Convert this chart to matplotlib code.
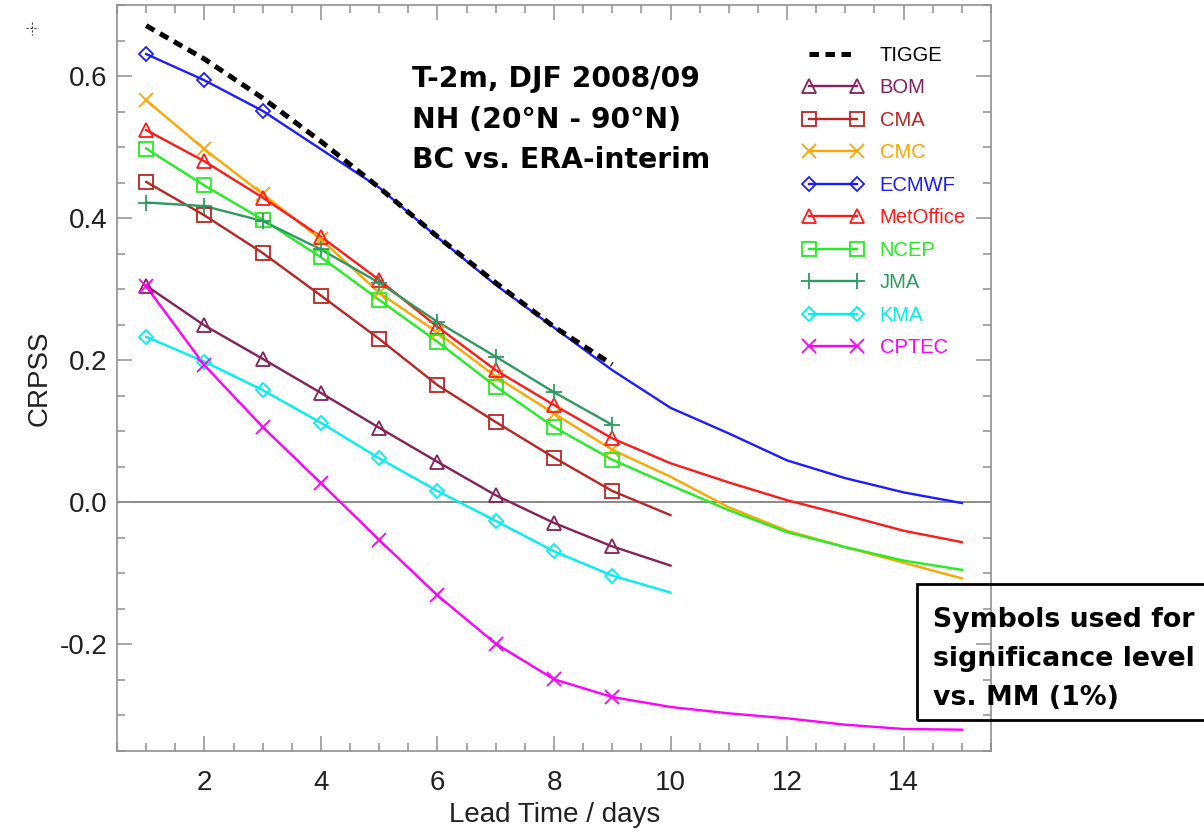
import matplotlib
matplotlib.use("Agg")
import matplotlib.pyplot as plt
from matplotlib.lines import Line2D
from matplotlib.patches import Rectangle
from matplotlib.ticker import MultipleLocator

plt.rcParams['font.family'] = ['Liberation Sans', 'DejaVu Sans']
plt.rcParams['axes.unicode_minus'] = False

# CRPSS per lead time (days 1..15)
tigge = [0.671, 0.624, 0.569, 0.508, 0.443, 0.374, 0.309, 0.247, 0.194]
bom = [0.305, 0.249, 0.202, 0.154, 0.105, 0.057, 0.010, -0.029, -0.062, -0.089]
cma = [0.451, 0.404, 0.351, 0.291, 0.230, 0.165, 0.113, 0.063, 0.016, -0.018]
cmc = [0.566, 0.497, 0.434, 0.370, 0.295, 0.239, 0.177, 0.125, 0.074, 0.036,
       -0.007, -0.040, -0.063, -0.085, -0.107]
ecmwf = [0.631, 0.594, 0.551, 0.497, 0.443, 0.373, 0.306, 0.246, 0.186, 0.133,
         0.097, 0.059, 0.034, 0.014, -0.001]
metoffice = [0.524, 0.480, 0.429, 0.374, 0.313, 0.247, 0.186, 0.137, 0.090, 0.055,
             0.028, 0.003, -0.018, -0.040, -0.056]
ncep = [0.498, 0.446, 0.398, 0.345, 0.285, 0.226, 0.163, 0.106, 0.060, 0.024,
        -0.011, -0.042, -0.063, -0.082, -0.095]
jma = [0.422, 0.417, 0.396, 0.356, 0.309, 0.254, 0.205, 0.155, 0.109]
kma = [0.233, 0.198, 0.158, 0.112, 0.062, 0.016, -0.026, -0.069, -0.103, -0.127]
cptec = [0.304, 0.193, 0.106, 0.027, -0.053, -0.131, -0.199, -0.249, -0.274, -0.288,
         -0.297, -0.304, -0.313, -0.319, -0.320]

# lead days where a significance symbol is drawn
sig_all = [1, 2, 3, 4, 5, 6, 7, 8, 9]
sig_ecmwf = [1, 2, 3]

names = ["BOM", "CMA", "CMC", "ECMWF", "MetOffice", "NCEP", "JMA", "KMA", "CPTEC"]
series = [bom, cma, cmc, ecmwf, metoffice, ncep, jma, kma, cptec]
sig_days = [sig_all, sig_all, sig_all, sig_ecmwf, sig_all, sig_all, sig_all, sig_all, sig_all]
colors = ["#85205a", "#bb2424", "#ffa500", "#1c1cff", "#ff1a1a", "#22ee22",
          "#2e9b5e", "#00f0f0", "#ff00ff"]
markers = ["^", "s", "x", "D", "^", "s", "+", "D", "x"]
msizes = [10.5, 10.5, 10.5, 7, 10.5, 10.5, 11, 7, 10.5]

fig = plt.figure(figsize=(12.04, 8.32), dpi=100)
ax = fig.add_axes([117 / 1204, 81 / 832, 874 / 1204, 746 / 832])

ax.axhline(0, color="#808080", lw=1.3, zorder=1)

for name, vals, sd, c, m, ms in zip(names, series, sig_days, colors, markers, msizes):
    d = list(range(1, len(vals) + 1))
    ax.plot(d, vals, color=c, lw=1.7, zorder=2)
    ax.plot(sd, [vals[i - 1] for i in sd], linestyle="none", marker=m, ms=ms,
            mfc="none", mec=c, mew=1.3, zorder=3)

ax.plot(range(1, len(tigge) + 1), tigge, color="black", lw=3.6,
        linestyle=(0, (1.9, 1.3)), zorder=4)

ax.set_xlim(0.5, 15.5)
ax.set_ylim(-0.35, 0.7)
ax.xaxis.set_major_locator(MultipleLocator(2))
ax.xaxis.set_minor_locator(MultipleLocator(0.5))
ax.yaxis.set_major_locator(MultipleLocator(0.2))
ax.yaxis.set_minor_locator(MultipleLocator(0.05))
ax.yaxis.set_major_formatter(matplotlib.ticker.FormatStrFormatter("%.1f"))
ax.set_xticks([2, 4, 6, 8, 10, 12, 14])
ax.tick_params(which="both", direction="in", top=True, right=True, color="#909090",
               width=1.1, labelsize=20, labelcolor="#202020")
ax.tick_params(which="major", length=11)
ax.tick_params(which="minor", length=6)
ax.tick_params(axis="y", pad=7)
ax.tick_params(axis="x", pad=14)
for s in ax.spines.values():
    s.set_color("#909090")
    s.set_linewidth(1.2)

fig.text(40 / 1204, 1 - 378 / 832, "CRPSS", rotation=90, ha="center", va="center",
         fontsize=20, color="#202020")
fig.text(555 / 1204, 1 - 815 / 832, "Lead Time / days", ha="center", va="center",
         fontsize=20, color="#202020")

# header text
head = ["T-2m, DJF 2008/09", "NH (20\u00b0N - 90\u00b0N)", "BC vs. ERA-interim"]
for line, yb in zip(head, [87, 128, 168]):
    fig.text(412 / 1204, 1 - yb / 832, line, ha="left", va="baseline",
             fontsize=20.3, fontweight="bold", family="DejaVu Sans")

# legend
handles = [Line2D([], [], color="black", lw=3.6, linestyle=(0, (1.9, 1.3)))]
for c, m, ms in zip(colors, markers, msizes):
    handles.append(Line2D([], [], color=c, lw=1.7, marker=m, ms=ms, mfc="none",
                          mec=c, mew=1.3))
leg = ax.legend(handles, ["TIGGE"] + names, loc="upper left",
                bbox_to_anchor=(803 / 1204, 1 - 46 / 832), bbox_transform=fig.transFigure,
                frameon=False, numpoints=2, fontsize=14.5, handlelength=3.0,
                handletextpad=0.8, labelspacing=0.67, borderpad=0, borderaxespad=0)
for t, c in zip(leg.get_texts(), ["black"] + colors):
    t.set_color(c)

# note box
fig.add_artist(Rectangle((917 / 1204, 1 - 720 / 832), 0.3, 136 / 832,
                         transform=fig.transFigure, fill=False, lw=2, ec="black"))
note = ["Symbols used for", "significance level", "vs. MM (1%)"]
for line, yb in zip(note, [627, 666, 705]):
    fig.text(933 / 1204, 1 - yb / 832, line, ha="left", va="baseline",
             fontsize=19.3, fontweight="bold", family="DejaVu Sans")

# small cursor mark in the corner
fig.add_artist(Line2D([26 / 1204, 38 / 1204], [1 - 28 / 832, 1 - 28 / 832],
                      transform=fig.transFigure, color="#404040", lw=0.8, ls=(0, (2, 1.5))))
fig.add_artist(Line2D([32 / 1204, 32 / 1204], [1 - 22 / 832, 1 - 35 / 832],
                      transform=fig.transFigure, color="#404040", lw=0.8, ls=(0, (2, 1.5))))

fig.savefig("out.png", dpi=100)
